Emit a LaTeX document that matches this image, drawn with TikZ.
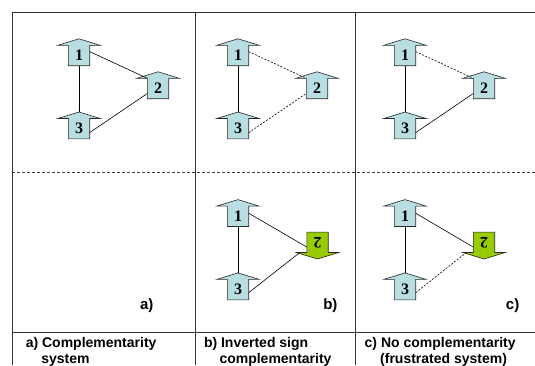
\documentclass[tikz,border=0pt]{standalone}
\usepackage{graphicx}
\usepackage{fontspec}
\setmainfont{Liberation Serif}
\setsansfont{Liberation Sans}
\usepackage{tikz}
\usetikzlibrary{calc,backgrounds}

\definecolor{spinblue}{HTML}{B8DEE2}
\definecolor{spingreen}{HTML}{99CC00}

% arrow outline behind a spin node: #1 name, #2 head side, #3 tail side, #4 colour
\newcommand{\spinbody}[4]{%
  \coordinate (#1tip) at ($(#1.#2)!-6.5pt!(#1.center)$);
  \begin{pgfonlayer}{background}
    \filldraw[fill=#4, draw=black!85, line width=0.6pt] (#1.#3 west) -- (#1.#2 west)
      -- ($(#1.#2 west)!-10.5pt!(#1.#2 east)$) -- (#1tip)
      -- ($(#1.#2 east)!-10.5pt!(#1.#2 west)$) -- (#1.#2 east) -- (#1.#3 east) -- cycle;
  \end{pgfonlayer}}
\newcommand{\spinup}[3]{\node[spin] (#1) at (#2) {#3};\spinbody{#1}{north}{south}{spinblue}}
\newcommand{\spindown}[3]{\node[spin] (#1) at (#2) {\rotatebox{180}{#3}};\spinbody{#1}{south}{north}{spingreen}}

\begin{document}
\begin{tikzpicture}[x=1pt,y=-1pt,
    spin/.style={minimum width=21pt, minimum height=20pt, inner sep=0pt,
        font=\fontsize{16}{16}\selectfont\bfseries},
    bond/.style={line width=0.6pt},
    weak/.style={bond, dash pattern=on 2pt off 1.5pt},
    frame/.style={line width=0.8pt, black!80},
    tag/.style={font=\sffamily\bfseries\fontsize{15}{15}\selectfont},
    caption/.style={font=\sffamily\bfseries\fontsize{14}{16}\selectfont, align=left,
        inner sep=0pt, anchor=north west}]
    \useasboundingbox (0,0) rectangle (535,365);
    % frame
    \draw[frame] (535,12.7) -- (12,12.7) -- (12,365);
    \draw[frame] (195.2,12.7) -- (195.2,365);
    \draw[frame] (355,12.7) -- (355,365);
    \draw[frame] (12,332.3) -- (535,332.3);
    \draw[line width=0.7pt, black!75, dash pattern=on 3pt off 2pt] (12,172.7) -- (535,172.7);
    % a) top
    \spinup{a1}{79,55.5}{1}
    \spinup{a2}{158,88.5}{2}
    \spinup{a3}{79,128.7}{3}
    \draw[bond] (a1) -- (a3tip);
    \draw[bond] (a1.20) -- (a2.north west);
    \draw[bond] (a3.-20) -- (a2.205);
    % b) top
    \spinup{b1}{238,55.5}{1}
    \spinup{b2}{317,88.5}{2}
    \spinup{b3}{238,128.7}{3}
    \draw[bond] (b1) -- (b3tip);
    \draw[weak] (b1.20) -- (b2.north west);
    \draw[weak] (b3.-20) -- (b2.205);
    % c) top
    \spinup{c1}{405,55.5}{1}
    \spinup{c2}{484,88.5}{2}
    \spinup{c3}{405,128.7}{3}
    \draw[bond] (c1) -- (c3tip);
    \draw[weak] (c1.20) -- (c2.north west);
    \draw[bond] (c3.-20) -- (c2.205);
    % b) bottom
    \spinup{bl1}{238,216.3}{1}
    \spindown{bl2}{317.5,242.3}{2}
    \spinup{bl3}{238,289.6}{3}
    \draw[bond] (bl1) -- (bl3tip);
    \draw[bond] (bl1.16) -- (bl2.204);
    \draw[bond] (bl3.-16) -- ([xshift=-7pt]bl2.south west);
    % c) bottom
    \spinup{cl1}{405,216.3}{1}
    \spindown{cl2}{484,242.3}{2}
    \spinup{cl3}{405,289.6}{3}
    \draw[bond] (cl1) -- (cl3tip);
    \draw[bond] (cl1.16) -- (cl2.204);
    \draw[weak] (cl3.-16) -- ([xshift=-7pt]cl2.south west);
    % labels
    \node[tag] (la) at (146.8,306) {a)};
    \node[tag] (lb) at (330.4,306) {b)};
    \node[tag] (lc) at (512.6,306) {c)};
    \node[caption] (ca) at (25.6,337) {a) Complementarity\\\hspace*{15.5pt}system};
    \node[caption] (cb) at (203.8,337) {b) Inverted sign\\\hspace*{15.5pt}complementarity};
    \node[caption] (cc) at (364.5,337) {c) No complementarity\\\hspace*{15.5pt}(frustrated system)};
\end{tikzpicture}
\end{document}
